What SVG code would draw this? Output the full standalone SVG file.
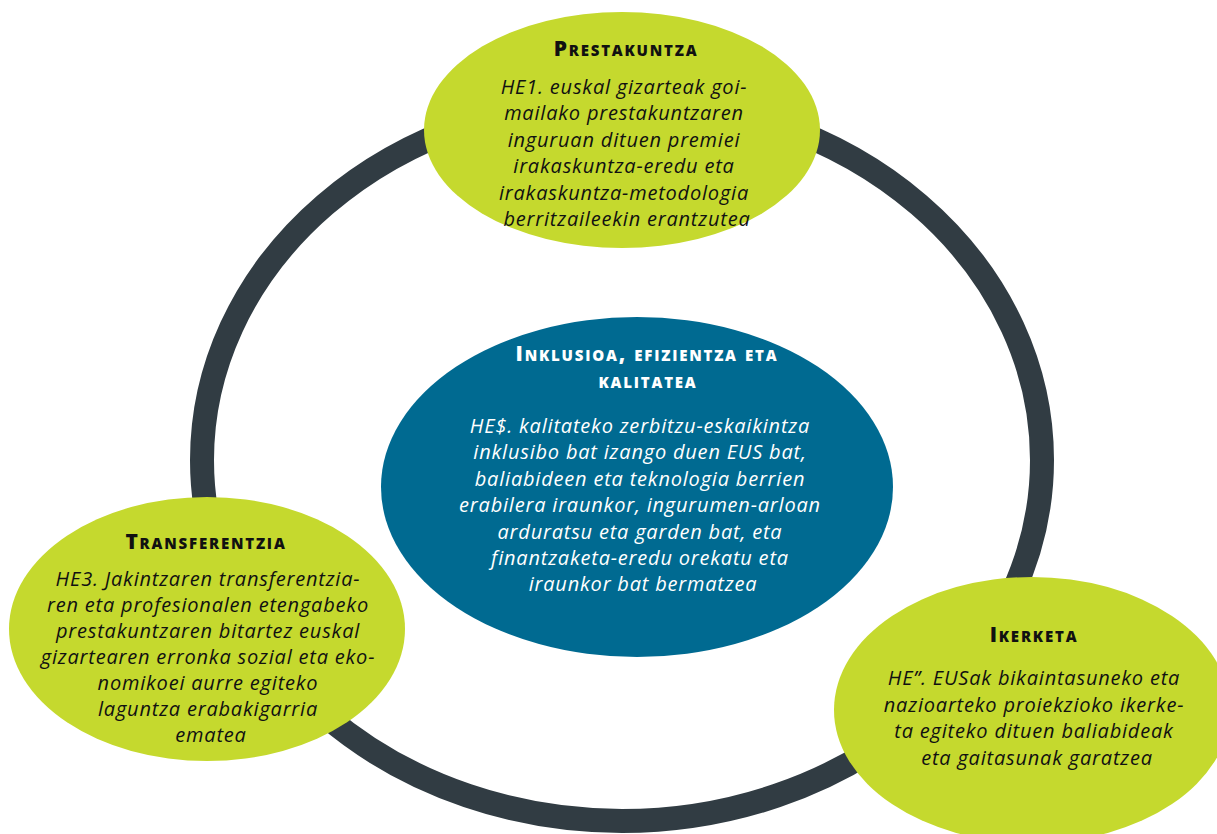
<svg xmlns="http://www.w3.org/2000/svg" width="1217" height="834" viewBox="0 0 1217 834">
<style>
.green{fill:#c5d92e}
.blue{fill:#006a91}
.ring{fill:none;stroke:#313c43;stroke-width:24}
.title{font-family:"Open Sans",Lato,"Liberation Sans",sans-serif;font-weight:800;font-variant:small-caps;font-size:21px;text-anchor:middle;letter-spacing:1.8px}
.body{font-family:"Open Sans",Lato,"Liberation Sans",sans-serif;font-style:italic;font-size:20px;text-anchor:middle;letter-spacing:0.8px}
.dark{fill:#111}
.light{fill:#fff}
</style>
<rect width="1217" height="834" fill="#fff"/>
<g id="connectors">
<ellipse class="ring" cx="622" cy="460" rx="420" ry="361"/>
</g>
<g id="node-prestakuntza">
<ellipse class="green" cx="622" cy="130" rx="198" ry="118"/>
<text class="title dark" x="626" y="56">Prestakuntza</text>
<text class="body dark">
<tspan x="627" y="94">HE1. euskal gizarteak goi-</tspan>
<tspan x="627" y="120">mailako prestakuntzaren</tspan>
<tspan x="627" y="147">inguruan dituen premiei</tspan>
<tspan x="627" y="173">irakaskuntza-eredu eta</tspan>
<tspan x="627" y="200">irakaskuntza-metodologia</tspan>
<tspan x="627" y="226">berritzaileekin erantzutea</tspan>
</text>
</g>
<g id="node-inklusioa">
<ellipse class="blue" cx="637" cy="487" rx="256" ry="170"/>
<text class="title light" x="647" y="361">Inklusioa, efizientza eta</text>
<text class="title light" x="648" y="388">kalitatea</text>
<text class="body light">
<tspan x="643" y="433">HE$. kalitateko zerbitzu-eskaikintza</tspan>
<tspan x="643" y="459">inklusibo bat izango duen EUS bat,</tspan>
<tspan x="643" y="486">baliabideen eta teknologia berrien</tspan>
<tspan x="643" y="512">erabilera iraunkor, ingurumen-arloan</tspan>
<tspan x="643" y="539">arduratsu eta garden bat, eta</tspan>
<tspan x="643" y="565">finantzaketa-eredu orekatu eta</tspan>
<tspan x="643" y="591">iraunkor bat bermatzea</tspan>
</text>
</g>
<g id="node-transferentzia">
<ellipse class="green" cx="207" cy="629" rx="198" ry="132"/>
<text class="title dark" x="206" y="549">Transferentzia</text>
<text class="body dark">
<tspan x="211" y="586">HE3. Jakintzaren transferentzia-</tspan>
<tspan x="211" y="612">ren eta profesionalen etengabeko</tspan>
<tspan x="211" y="638">prestakuntzaren bitartez euskal</tspan>
<tspan x="211" y="664">gizartearen erronka sozial eta eko-</tspan>
<tspan x="211" y="690">nomikoei aurre egiteko</tspan>
<tspan x="211" y="716">laguntza erabakigarria</tspan>
<tspan x="211" y="742">ematea</tspan>
</text>
</g>
<g id="node-ikerketa">
<ellipse class="green" cx="1032" cy="710" rx="198" ry="133"/>
<text class="title dark" x="1034" y="642">Ikerketa</text>
<text class="body dark">
<tspan x="1037" y="685">HE”. EUSak bikaintasuneko eta</tspan>
<tspan x="1037" y="712">nazioarteko proiekzioko ikerke-</tspan>
<tspan x="1037" y="738">ta egiteko dituen baliabideak</tspan>
<tspan x="1037" y="765">eta gaitasunak garatzea</tspan>
</text>
</g>
</svg>
